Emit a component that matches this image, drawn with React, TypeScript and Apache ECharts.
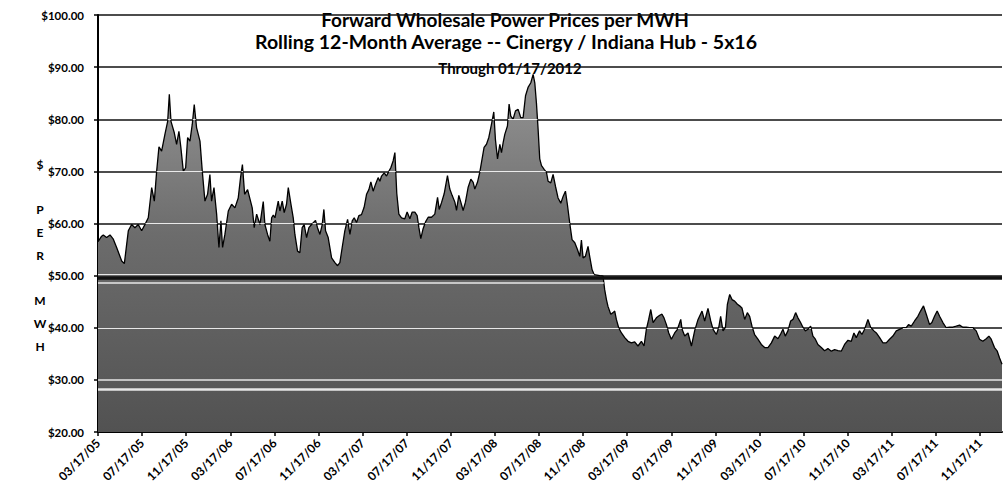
import React, { useEffect, useRef } from "react";
import * as echarts from "echarts";

// Months elapsed since 03/17/2005
const months = [
  0.0, 0.3, 0.48, 0.78, 1.09, 1.39, 1.69, 2.15, 2.39, 2.6, 2.75, 3.05, 3.35, 3.65, 3.96, 4.26, 4.56, 4.87, 5.11, 5.32,
  5.53, 5.77, 6.07, 6.32, 6.47, 6.62, 6.92, 7.13, 7.34, 7.52, 7.74, 7.95, 8.13, 8.34, 8.55, 8.73, 8.94, 9.25, 9.46, 9.7,
  9.94, 10.15, 10.3, 10.52, 10.76, 10.97, 11.15, 11.3, 11.51, 11.82, 12.12, 12.42, 12.72, 12.93, 13.1, 13.3,
  13.57, 13.99, 14.17, 14.39, 14.69, 14.99, 15.14, 15.38, 15.59, 15.75, 15.9, 16.05, 16.35, 16.5, 16.71, 16.89, 17.1,
  17.26, 17.5, 17.71, 17.86, 18.1, 18.31, 18.52, 18.7, 18.92, 19.13, 19.37, 19.73, 19.91, 20.13, 20.34, 20.49, 20.64,
  20.88, 21.19, 21.49, 21.73, 21.94, 22.15, 22.39, 22.64, 22.85, 23.06, 23.24, 23.45, 23.66, 23.9, 24.14, 24.36, 24.57,
  24.75, 24.96, 25.17, 25.41, 25.57, 25.72, 25.96, 26.17, 26.38, 26.56, 26.77, 26.93,
  27.1, 27.29, 27.53, 27.83, 28.04, 28.29, 28.5, 28.74, 28.95, 29.1, 29.28, 29.49, 29.71, 29.95, 30.25, 30.55, 30.8,
  30.95, 31.16, 31.4, 31.7, 31.91, 32.12, 32.37, 32.52, 32.73, 32.91, 33.12, 33.33, 33.57, 33.82, 34.03, 34.18, 34.42,
  34.63, 34.84, 35.02, 35.24, 35.45, 35.69, 35.9, 36.05, 36.24, 36.45, 36.6, 36.75, 36.9, 37.14, 37.29, 37.44, 37.65,
  37.87, 38.11, 38.35, 38.56, 38.78, 39.01, 39.26, 39.47, 39.62, 39.77, 39.92, 40.07, 40.23, 40.47, 40.68,
  40.83, 41.07, 41.28, 41.5, 41.73, 41.98, 42.19, 42.4, 42.58, 42.79, 43.0, 43.25, 43.49, 43.7, 43.85, 44.0, 44.21,
  44.45, 44.6, 44.81, 45.0, 45.51, 45.81, 45.96, 46.12, 46.26, 46.51, 46.72, 46.87, 47.02, 47.23, 47.48, 47.78, 48.08,
  48.38, 48.68, 48.98, 49.29, 49.53, 49.74, 49.95, 50.14, 50.35, 50.65, 50.95, 51.16, 51.34, 51.56, 51.77, 52.01,
  52.31, 52.56, 52.86, 52.98, 53.22, 53.52, 53.83, 54.13,
  54.43, 54.79, 55.03, 55.33, 55.58, 55.79, 56.09, 56.3, 56.48, 56.69, 56.91, 57.09, 57.3, 57.51, 57.75, 58.0, 58.2,
  58.41, 58.66, 58.9, 59.11, 59.32, 59.56, 59.86, 60.17, 60.47, 60.77, 61.08, 61.38, 61.68, 61.92, 62.13, 62.34, 62.58,
  62.83, 63.04, 63.28, 63.49, 63.73, 63.94, 64.16, 64.4, 64.64, 64.85, 65.07, 65.3, 65.61, 65.91, 66.21, 66.52, 66.82,
  67.12, 67.42,
  67.72, 68.03, 68.33, 68.57, 68.78, 69.08, 69.29, 69.54, 69.84, 70.08, 70.38, 70.6, 70.9, 71.2, 71.5, 71.8, 72.1,
  72.41, 72.71, 73.01, 73.31, 73.52, 73.77, 74.07, 74.37, 74.61, 74.88, 75.13, 75.43, 75.64, 75.88, 76.12, 76.34,
  76.64, 76.94, 77.24, 77.54, 77.85, 78.15, 78.45, 78.75, 79.06, 79.36, 79.66, 79.96, 80.26, 80.57, 80.81, 81.02,
  81.32, 81.57, 81.78, 82.0,
];

// Rolling 12-month average price, $ per MWH
const prices = [
  56.5, 57.5, 57.8, 57.3, 57.8, 57.0, 55.4, 52.8, 52.3, 56.0, 58.6, 59.8, 59.2, 59.8, 58.6, 59.8, 61.1, 66.9, 64.3, 70.0,
  74.7, 73.9, 77.1, 79.6, 84.8, 79.6, 77.4, 75.2, 77.7, 74.5, 70.0, 70.7, 76.5, 75.8, 79.0, 82.8, 78.4, 75.8, 70.0, 64.3,
  65.6, 69.4, 64.3, 66.9, 61.8, 55.4, 60.5, 55.4, 57.9, 62.4, 63.7, 63.0, 64.9, 68.8, 71.3, 65.6,
  66.5, 63.0, 59.2, 61.8, 59.8, 64.2, 59.8, 57.9, 56.6, 61.1, 61.6, 61.1, 64.3, 62.4, 64.3, 62.1, 63.7,
  66.9, 63.7, 61.1, 57.9, 54.7, 54.4, 59.2, 59.8, 57.3, 59.2, 59.8, 60.6, 59.2, 57.9, 59.8, 62.7, 58.6,
  57.3, 53.4, 52.5, 51.9, 52.5, 55.4, 58.6, 60.8, 57.9, 60.5, 61.1, 60.2, 61.5, 61.7, 63.1, 65.6, 66.5,
  68.0, 66.2, 67.5, 68.8, 68.1, 69.1, 69.7, 69.1, 70.0, 70.7, 72.0, 73.6,
  65.8, 61.8, 61.1, 60.9, 62.2, 60.9, 62.2, 62.2, 61.5, 59.3, 57.1, 59.0, 60.3, 61.2, 61.2, 61.8, 65.0,
  62.7, 64.0, 65.7, 69.2, 66.6, 65.4, 64.1, 62.5, 65.4, 64.1, 62.5, 64.1, 66.9, 68.5, 67.9, 66.6, 67.9,
  69.8, 72.4, 74.6, 75.2, 76.5, 79.0, 81.4, 76.1, 72.4, 75.2, 73.6, 75.5, 77.1, 78.7, 82.9, 80.6, 80.0,
  81.6, 81.9, 80.3, 80.3, 84.5, 86.1, 87.0, 88.6, 87.0, 83.1, 78.1, 72.4, 71.1, 70.4, 69.8,
  68.1, 67.8, 69.4, 67.1, 64.9, 63.9, 65.2, 66.2, 63.6, 60.1, 56.9, 56.3, 55.0, 53.7, 56.8, 53.4, 53.7,
  55.6, 53.7, 51.2, 50.2, 50.0, 49.9, 47.3, 45.4, 44.1, 42.6, 42.9, 43.2, 41.6, 40.0, 39.0, 38.1, 37.4,
  37.1, 37.3, 36.5, 37.4, 36.5, 39.7, 41.6, 43.5, 41.0, 41.9, 42.4, 42.6, 41.9, 40.6, 39.0, 37.8,
  39.0, 39.7, 41.6, 39.7, 38.4, 39.0, 36.5, 39.5,
  41.6, 43.2, 41.3, 43.7, 41.3, 39.7, 38.7, 40.0, 42.2, 39.4, 40.0, 44.5, 46.4, 45.4, 45.1, 44.5, 44.2,
  43.8, 41.6, 42.9, 42.2, 40.3, 38.7, 37.8, 36.8, 36.2, 36.2, 37.1, 38.4, 37.9, 38.8, 39.7, 38.4, 39.4,
  41.3, 41.6, 42.9, 41.9, 41.0, 40.1, 39.4, 39.7, 40.3, 38.4, 37.8, 36.8, 36.2, 35.6, 36.0, 35.5, 35.8,
  35.6, 35.5,
  36.8, 37.6, 37.4, 39.0, 38.1, 39.4, 38.7, 39.7, 41.6, 40.1, 39.4, 39.0, 38.1, 37.1, 37.1, 37.8, 38.4,
  39.4, 39.7, 40.0, 40.0, 40.6, 40.3, 41.3, 42.2, 43.2, 44.2, 42.6, 40.6, 41.0, 42.2, 43.2, 42.2,
  41.0, 40.0, 40.1, 40.1, 40.3, 40.5, 40.1, 40.1, 40.0, 40.0, 39.4, 37.8, 37.4, 37.9, 38.4, 37.8,
  36.2, 35.5, 34.2, 33.0,
];

const xTickLabels = [
  "03/17/05", "07/17/05", "11/17/05", "03/17/06", "07/17/06", "11/17/06", "03/17/07",
  "07/17/07", "11/17/07", "03/17/08", "07/17/08", "11/17/08", "03/17/09", "07/17/09",
  "11/17/09", "03/17/10", "07/17/10", "11/17/10", "03/17/11", "07/17/11", "11/17/11",
];

const titleLines = [
  "Forward Wholesale Power Prices per MWH",
  "Rolling 12-Month Average -- Cinergy / Indiana Hub - 5x16",
  "Through 01/17/2012",
];
const yAxisLetters = ["$", "", "P", "E", "R", "", "M", "W", "H"];

// Gridline levels that show white where they pass through the filled area
const whiteLevels = [90, 80, 70, 60, 50.3, 48.7, 40, 30, 28.2];
const whiteWidths = [1.2, 1.2, 1.2, 1.2, 1.2, 1.5, 1.2, 1.5, 2.5];

function runsAbove(level: number) {
  const segs: any[] = [];
  let start: number | null = prices[0] >= level ? months[0] : null;
  for (let i = 0; i < months.length - 1; i++) {
    const a = prices[i], b = prices[i + 1];
    const aIn = a >= level, bIn = b >= level;
    if (aIn !== bIn) {
      const t = (level - a) / (b - a);
      const mc = months[i] + t * (months[i + 1] - months[i]);
      if (aIn) {
        segs.push({ coords: [[start, level], [mc, level]] });
        start = null;
      } else {
        start = mc;
      }
    }
  }
  if (start !== null) segs.push({ coords: [[start, level], [months[months.length - 1], level]] });
  return segs;
}

const FONT = "Lato, 'Open Sans', sans-serif";

export default function App() {
  const ref = useRef<HTMLDivElement>(null);
  useEffect(() => {
    document.body.style.margin = "0";
    if (!ref.current) return;
    const chart = echarts.init(ref.current, null, { renderer: "svg" });
    const data = months.map((m, i) => [m, prices[i]]);
    const whiteSeries = whiteLevels.map((lv, k) => ({
      type: "lines",
      coordinateSystem: "cartesian2d",
      polyline: false,
      silent: true,
      z: 4,
      lineStyle: { color: "#ffffff", width: whiteWidths[k], opacity: 0.85 },
      data: runsAbove(lv),
    }));
    const letters = yAxisLetters
      .map((t, i) => ({ t, i }))
      .filter((o) => o.t !== "")
      .map((o) => ({
        type: "text",
        style: {
          text: o.t,
          x: 40,
          y: 164 + o.i * 22.8,
          textAlign: "center",
          textVerticalAlign: "middle",
          font: `bold 12px ${FONT}`,
          fill: "#000",
        },
      }));
    chart.setOption({
      animation: false,
      backgroundColor: "#ffffff",
      grid: { left: 98, right: 1, top: 15, bottom: 61, containLabel: false },
      xAxis: {
        type: "value",
        min: 0,
        max: 82,
        interval: 4,
        splitLine: { show: false },
        axisLine: { show: true, onZero: false, lineStyle: { color: "#000", width: 2 } },
        axisTick: { show: true, length: 4, lineStyle: { color: "#000", width: 1.5 } },
        axisLabel: {
          rotate: 45,
          margin: 9,
          color: "#000",
          fontFamily: FONT,
          fontWeight: "bold",
          fontSize: 12,
          showMaxLabel: false,
          formatter: (v: number) => (v % 4 === 0 ? xTickLabels[v / 4] ?? "" : ""),
        },
      },
      yAxis: {
        type: "value",
        min: 20,
        max: 100,
        interval: 10,
        splitLine: { show: true, lineStyle: { color: "#111", width: 1.6 } },
        axisLine: { show: true, lineStyle: { color: "#000", width: 2 } },
        axisTick: { show: true, length: 4, lineStyle: { color: "#000", width: 1.5 } },
        axisLabel: {
          margin: 14,
          color: "#000",
          fontFamily: FONT,
          fontWeight: "bold",
          fontSize: 11.5,
          formatter: (v: number) => `$${v.toFixed(2)}`,
        },
      },
      series: [
        {
          type: "line",
          data,
          symbol: "none",
          z: 2,
          lineStyle: { color: "#000", width: 1.3 },
          areaStyle: {
            opacity: 1,
            origin: "start",
            color: new echarts.graphic.LinearGradient(0, 0, 0, 1, [
              { offset: 0, color: "#959595" },
              { offset: 0.45, color: "#6c6c6c" },
              { offset: 1, color: "#525252" },
            ]),
          },
          markLine: {
            silent: true,
            symbol: "none",
            label: { show: false },
            lineStyle: { color: "#111", width: 3.5, type: "solid" },
            data: [{ yAxis: 49.5 }],
            z: 5,
          },
        },
        ...whiteSeries,
      ],
      graphic: [
        {
          type: "text",
          style: {
            text: titleLines[0],
            x: 505,
            y: 19,
            textAlign: "center",
            textVerticalAlign: "middle",
            font: `bold 19px ${FONT}`,
            fill: "#000",
          },
        },
        {
          type: "text",
          style: {
            text: titleLines[1],
            x: 506,
            y: 41,
            textAlign: "center",
            textVerticalAlign: "middle",
            font: `bold 19.5px ${FONT}`,
            fill: "#000",
          },
        },
        {
          type: "text",
          style: {
            text: titleLines[2],
            x: 510,
            y: 68,
            textAlign: "center",
            textVerticalAlign: "middle",
            font: `bold 15px ${FONT}`,
            fill: "#000",
            backgroundColor: "#fff",
            padding: [0, 2],
          },
        },
        ...letters,
      ],
    });
    return () => chart.dispose();
  }, []);
  return <div ref={ref} style={{ width: 1003, height: 493 }} />;
}
